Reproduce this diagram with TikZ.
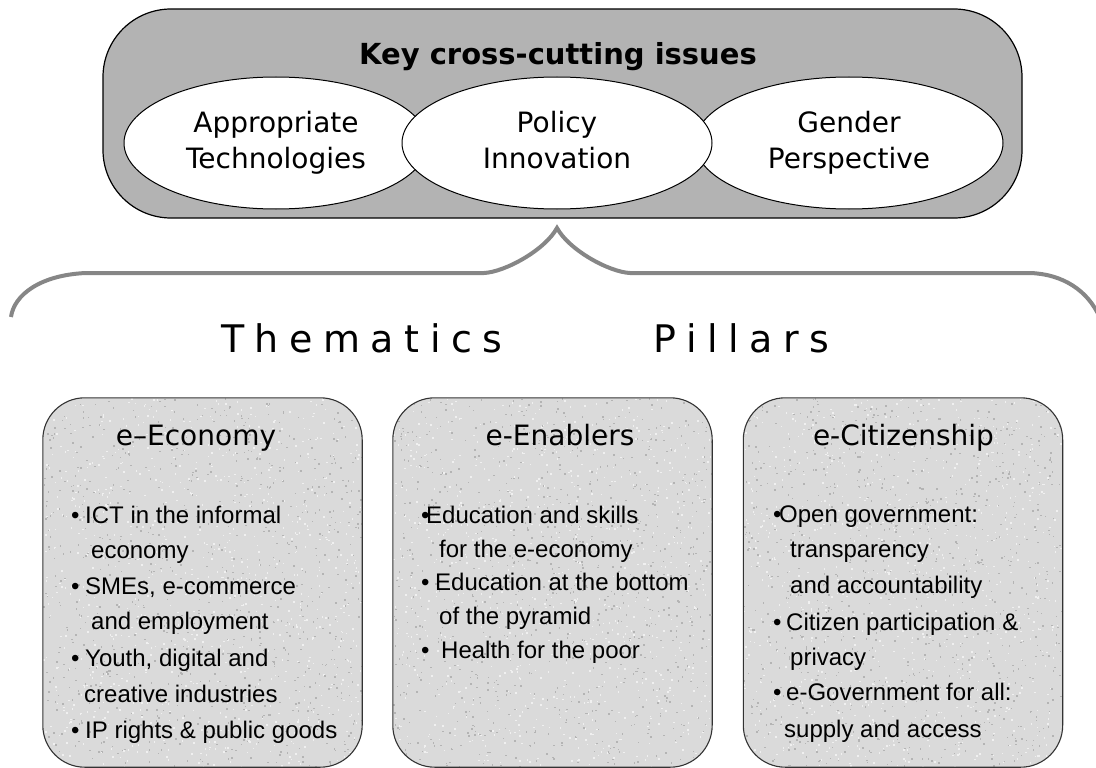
\documentclass[tikz,border=0pt]{standalone}
\usepackage{fontspec}
\setmainfont{DejaVu Sans}
\newfontfamily\arialike{Liberation Sans}
\usetikzlibrary{shapes.geometric}

\definecolor{panelgray}{HTML}{B3B3B3}
\definecolor{bracegray}{HTML}{868686}
\definecolor{stonebase}{HTML}{DADADA}
\definecolor{stonedark}{HTML}{B4B4B4}
\definecolor{stonelight}{HTML}{F0F0F0}

% letter spacing for the wide heading
\newcommand\lsp{\kern10.5pt}
% bullet set in a box of given width, followed by the item text
\newcommand\bul[2]{\makebox[#1pt][l]{\textbullet}#2}

\begin{document}
\begin{tikzpicture}[x=1pt,y=-1pt,
  panel/.style={draw=black, line width=1.2pt, fill=panelgray, rounded corners=68pt,
    minimum width=919pt, minimum height=209pt, inner sep=0pt},
  issue/.style={ellipse, draw=black, line width=1pt, fill=white, minimum height=132pt,
    inner sep=0pt, align=center, font=\fontsize{28}{36}\selectfont},
  pillar/.style={rounded corners=42pt, minimum width=319pt, minimum height=369pt,
    inner sep=0pt, fill=stonebase},
  pillarline/.style={draw=black!80, line width=1.1pt, rounded corners=42pt},
  ptitle/.style={anchor=base, inner sep=0pt, font=\fontsize{28}{34}\selectfont},
  item/.style={anchor=base west, inner sep=0pt, font=\arialike\fontsize{24}{30}\selectfont},
  brace/.style={draw=bracegray, line width=4pt},
  heading/.style={anchor=base west, inner sep=0pt, font=\fontsize{38}{44}\selectfont}
]
\useasboundingbox (0,0) rectangle (1096,768);

% ---- cross-cutting issues panel ----
\node[panel] (issues) at (562.5,113.5) {};
\node[anchor=base, inner sep=0pt, font=\bfseries\fontsize{29}{34}\selectfont]
  (keytitle) at (558,65) {Key cross-cutting issues};
\node[issue, minimum width=304pt] (apt) at (276,143) {Appropriate\\Technologies};
\node[issue, minimum width=308pt] (gender) at (849,143) {Gender\\Perspective};
\node[issue, minimum width=310pt] (policy) at (557,143) {Policy\\Innovation\vphantom{g}};

% ---- brace ----
\draw[brace] (11,317) .. controls (14,295) and (40,275) .. (86,273)
  -- (484,273) .. controls (505,272) and (545,250) .. (557,228)
  .. controls (569,250) and (609,272) .. (630,273)
  -- (1030,273) .. controls (1062,274) and (1088,290) .. (1100,318);

% ---- heading ----
\node[heading] (them) at (221,352) {T\lsp h\lsp e\lsp m\lsp a\lsp t\lsp i\lsp c\lsp s};
\node[heading] (pill) at (653,352) {P\lsp i\lsp l\lsp l\lsp a\lsp r\lsp s};

% ---- pillar boxes ----
\node[pillar] (econ) at (202.5,582.5) {};
\node[pillar] (enab) at (552.5,582.5) {};
\node[pillar] (citz) at (903,582.5) {};

\pgfmathsetseed{4711}
\foreach \bx/\bn in {43/econ, 393/enab, 743/citz} {
  \begin{scope}
    \clip[rounded corners=42pt] (\bn.south west) rectangle (\bn.north east);
    \foreach \k in {1,...,900} {
      \fill[stonedark] ({\bx+319*rnd},{398+369*rnd}) rectangle ++(1.5,1.5);
      \fill[stonelight] ({\bx+319*rnd},{398+369*rnd}) rectangle ++(1.5,1.5);
    }
  \end{scope}
  \draw[pillarline] (\bn.south west) rectangle (\bn.north east);
}

\node[ptitle] (econ-t) at (196,445) {e–Economy};
\node[ptitle] (enab-t) at (560,445) {e-Enablers};
\node[ptitle] (citz-t) at (903.5,445) {e-Citizenship};

\foreach \xx/\yy/\txt [count=\i] in {
  71/523/{\bul{14}{ICT in the informal}},
  91/558/{economy},
  71/594/{\bul{14}{SMEs, e-commerce}},
  91/629/{and employment},
  71/666/{\bul{14}{Youth, digital and}},
  84/702/{creative industries},
  71/738/{\bul{14}{IP rights \& public goods}}}
  \node[item] (econ-\i) at (\xx,\yy) {\txt};

\foreach \xx/\yy/\txt [count=\i] in {
  421/523/{\bul{5}{Education and skills}},
  439/557/{for the e-economy},
  421/590/{\bul{14}{Education at the bottom}},
  439/624/{of the pyramid},
  421/658/{\bul{20}{Health for the poor}}}
  \node[item] (enab-\i) at (\xx,\yy) {\txt};

\foreach \xx/\yy/\txt [count=\i] in {
  773/522/{\bul{6}{Open government:}},
  790/557/{transparency},
  790/593/{and accountability},
  773/630/{\bul{13}{Citizen participation \&}},
  790/665/{privacy},
  773/700/{\bul{13}{e-Government for all:}},
  784/737/{supply and access}}
  \node[item] (citz-\i) at (\xx,\yy) {\txt};

\end{tikzpicture}
\end{document}
